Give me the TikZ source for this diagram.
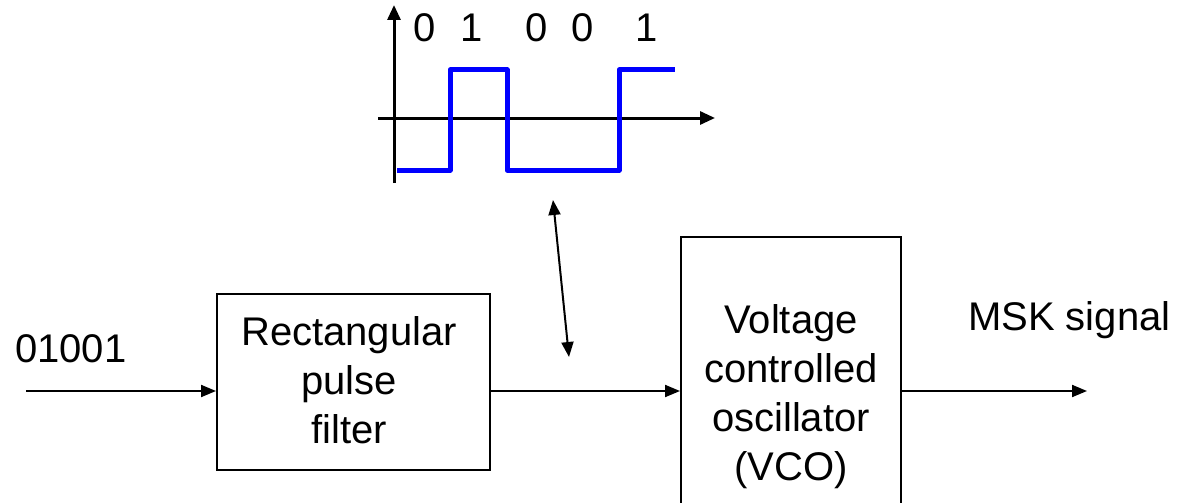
\documentclass[tikz,border=0pt]{standalone}
\usepackage{fontspec}
\setmainfont{Liberation Sans}
\usetikzlibrary{arrows.meta}
\begin{document}
\begin{tikzpicture}[x=1pt,y=-1pt,
  every node/.style={font=\fontsize{40}{49}\selectfont, inner sep=0pt},
  blk/.style={draw=black, line width=2pt, fill=none},
  conn/.style={line width=2pt, -{Triangle[length=15pt,width=12pt]}},
  axis/.style={line width=3pt, -{Triangle[length=15pt,width=13pt]}},
  wave/.style={draw=blue, line width=5pt, line join=round}]
\useasboundingbox (0,0) rectangle (1194,503);
% blocks
\node[blk, minimum width=273pt, minimum height=176pt] (rect) at (353.5,382) {};
\node[align=center, anchor=north] (recttxt) at (349,316) {Rectangular\\pulse\\filter};
\node[blk, minimum width=220pt, minimum height=280pt] (vco) at (791,377) {};
\node[align=center, anchor=north] (vcotxt) at (791,304) {Voltage\\controlled\\oscillator\\(VCO)};
% labels
\node[anchor=base west] (inlbl) at (15,362) {01001};
\node[anchor=base west] (outlbl) at (968,330) {MSK signal};
% connectors
\coordinate (in) at (26,391);
\coordinate (out) at (1087,391);
\draw[conn] (in) -- (in -| rect.west);
\draw[conn] (in -| rect.east) -- (in -| vco.west);
\draw[conn] (in -| vco.east) -- (out);
% double arrow
\coordinate (da1) at (553,200);
\coordinate (da2) at (569,357);
\draw[line width=2pt, {Triangle[length=15pt,width=12pt]}-{Triangle[length=15pt,width=12pt]}] (da1) -- (da2);
% waveform axes
\coordinate (yb) at (394,183);
\coordinate (yt) at (394,5);
\coordinate (xl) at (378,118);
\coordinate (xr) at (715,118);
\draw[axis] (yb) -- (yt);
\draw[axis] (xl) -- (xr);
\draw[wave] (397,170) -- (450,170) -- (450,70) -- (507,70) -- (507,170) -- (619,170) -- (619,70) -- (675,70);
% bits
\node[anchor=base] (b1) at (425,42) {0};
\node[anchor=base] (b2) at (472,42) {1};
\node[anchor=base] (b3) at (537,42) {0};
\node[anchor=base] (b4) at (583,42) {0};
\node[anchor=base] (b5) at (647,42) {1};
\end{tikzpicture}
\end{document}
